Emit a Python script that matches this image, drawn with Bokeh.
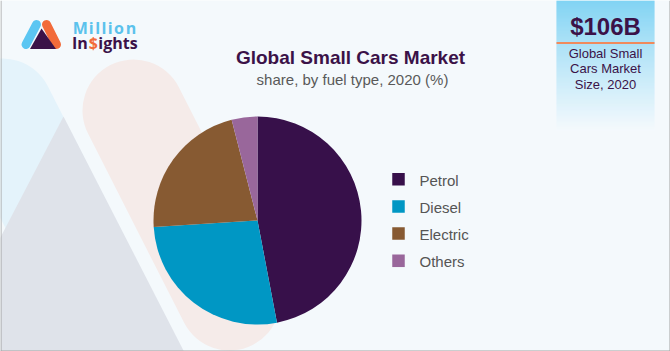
import numpy as np
from bokeh.plotting import figure
from bokeh.models import Range1d, Label
from bokeh.core.properties import value
from bokeh.embed import file_html
from bokeh.resources import INLINE

# ---------------- data ----------------
fuel_types = ["Petrol", "Diesel", "Electric", "Others"]
shares = [47, 27, 22, 4]
colors = ["#37104A", "#0097C4", "#875A32", "#99679B"]

title_text = "Global Small Cars Market"
subtitle_text = "share, by fuel type, 2020 (%)"
market_size = "$106B"
market_caption = ["Global Small", "Cars Market", "Size, 2020"]

# ---------------- figure ----------------
W, H = 670, 351
BG = "#F4F9FC"
DARK = "#3B1248"
SH = 0.36  # baseline correction factor (fraction of font size)


def Y(v):
    return H - v


def YB(v, size):
    # desired alphabetic baseline (pixels from top) -> data y
    return H - (v - SH * size)


p = figure(width=W, height=H, x_range=Range1d(0, W), y_range=Range1d(0, H),
           output_backend="svg", toolbar_location=None, min_border=0,
           x_axis_type=None, y_axis_type=None)
p.grid.visible = False
p.outline_line_color = None
p.background_fill_color = BG
p.border_fill_color = BG

# ---------------- background decoration ----------------
p.line([2, 99], [Y(109), Y(300)], line_width=102, line_cap="round", color="#E4F3FB")
p.patch([63, 184, -60], [Y(116), Y(352), Y(352)], color="#DFE3EA", line_color=None)
p.line([133, 229], [Y(110), Y(299)], line_width=102, line_cap="round", color="#F5EBE9")

# right-hand box with gradient
n = 130
top_c = np.array([91, 199, 241])
bot_c = np.array([244, 250, 253])
strip_cols = []
for i in range(n):
    t = (i / (n - 1)) ** 0.9
    c = (top_c * (1 - t) + bot_c * t).astype(int)
    strip_cols.append("#%02x%02x%02x" % tuple(c))
ys = np.arange(n)
p.quad(left=556, right=654, top=[Y(v) for v in ys], bottom=[Y(v + 1) for v in ys],
       fill_color=strip_cols, line_color=None)
p.segment(x0=556, y0=Y(42.5), x1=654, y1=Y(42.5), line_color="#F08A5C", line_width=2)

# grey frame (left, right, bottom)
p.segment(x0=[0.5, 669.5, 0], y0=[0, 0, 0.5], x1=[0.5, 669.5, 670], y1=[H, H, 0.5],
          line_color="#A3A3A3", line_width=1)

# ---------------- pie ----------------
cum = np.cumsum([0] + shares)
start_deg = [90 - 360 * cum[i + 1] / 100 for i in range(len(shares))]
end_deg = [90 - 360 * cum[i] / 100 for i in range(len(shares))]
p.wedge(x=257, y=Y(220), radius=104, start_angle=start_deg, end_angle=end_deg,
        start_angle_units="deg", end_angle_units="deg", direction="anticlock",
        fill_color=colors, line_color=None)

# ---------------- legend ----------------
leg_y = [178.7 + 27.2 * i for i in range(len(fuel_types))]
p.scatter(x=398, y=[Y(v) for v in leg_y], marker="square", size=12.5,
          fill_color=colors, line_color=None)
p.text(x=419, y=[YB(v + 6.3, 15) for v in leg_y], text=fuel_types,
       text_font=value("Liberation Sans"), text_font_size="15px",
       text_color="#555555", text_baseline="alphabetic", text_align="left")

# ---------------- titles ----------------
p.add_layout(Label(x=350, y=YB(64, 19), text=title_text, text_font="Liberation Sans",
                   text_font_size="19px", text_font_style="bold", text_color=DARK,
                   text_align="center", text_baseline="alphabetic"))
p.add_layout(Label(x=352, y=YB(84, 15), text=subtitle_text, text_font="Liberation Sans",
                   text_font_size="15px", text_color="#595959",
                   text_align="center", text_baseline="alphabetic"))

# ---------------- market size box ----------------
p.add_layout(Label(x=605, y=YB(34.3, 24), text=market_size, text_font="Liberation Sans",
                   text_font_size="24px", text_font_style="bold", text_color=DARK,
                   text_align="center", text_baseline="alphabetic"))
for i, line in enumerate(market_caption):
    p.add_layout(Label(x=605, y=YB(57.5 + 15.5 * i, 13), text=line, text_font="Liberation Sans",
                       text_font_size="13px", text_color=DARK,
                       text_align="center", text_baseline="alphabetic"))

# ---------------- logo ----------------
p.line([25.5, 36], [Y(44), Y(24)], line_width=9, line_cap="round", color="#5BC6F2")
p.line([46, 56], [Y(24), Y(44)], line_width=9, line_cap="round", color="#F26B3A")
p.patch([41, 29.5, 55.5], [Y(28), Y(48.5), Y(48.5)], color=DARK, line_color=None)

m_chars = list("Million")
m_adv = [0.907, 0.297, 0.297, 0.297, 0.297, 0.639, 0.659]
m_x = [72.3 + sum(m_adv[:k]) * 16 + 1.55 * k for k in range(len(m_chars))]
p.text(x=m_x, y=YB(33, 16), text=m_chars, text_font=value("Open Sans"), text_font_size="16px",
       text_font_style="bold", text_color="#5BC2EC", text_align="left",
       text_baseline="alphabetic")
i_parts = ["In", "$", "ights"]
i_x = [71.5, 88.3, 97.8]
i_cols = [DARK, "#F26B3A", DARK]
p.text(x=i_x, y=YB(48.5, 16), text=i_parts, text_font=value("Open Sans"), text_font_size="16px",
       text_font_style="bold", text_color=i_cols, text_align="left",
       text_baseline="alphabetic")

open("out.html", "w").write(file_html(p, INLINE))
